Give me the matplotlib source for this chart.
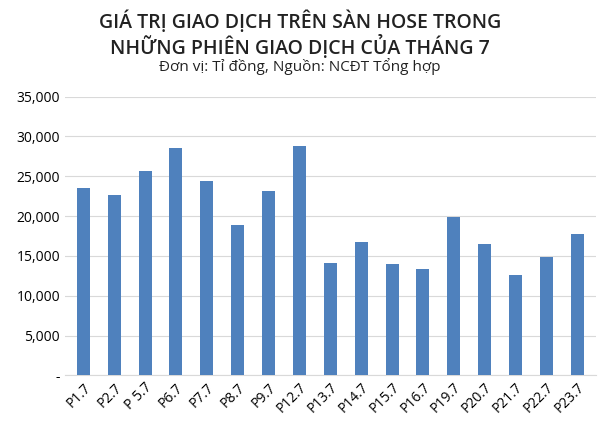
import matplotlib
matplotlib.use("Agg")
import matplotlib.pyplot as plt
from matplotlib.ticker import FuncFormatter

categories = ["P1.7","P2.7","P 5.7","P6.7","P7.7","P8.7","P9.7","P12.7","P13.7","P14.7",
              "P15.7","P16.7","P19.7","P20.7","P21.7","P22.7","P23.7"]
values = [23500,22600,25700,28500,24350,18850,23200,28750,14050,16800,
          13950,13300,19900,16550,12550,14800,17800]
yticks = [0,5000,10000,15000,20000,25000,30000,35000]

plt.rcParams["font.family"] = "Open Sans"
fig = plt.figure(figsize=(6,4.29), dpi=100)
ax = fig.add_axes([0.108, 0.125, 0.885, 0.65])
ax.bar(range(len(categories)), values, width=0.42, color="#4F81BD", zorder=3)
ax.set_ylim(0,35000)
ax.set_xlim(-0.6, len(categories)-0.4)
ax.set_yticks(yticks)
ax.yaxis.set_major_formatter(FuncFormatter(lambda v,p: "-" if v==0 else f"{int(v):,}"))
ax.grid(axis="y", color="#D9D9D9", lw=0.8, zorder=0)
ax.set_xticks(range(len(categories)))
ax.set_xticklabels(categories, rotation=45, ha="right", rotation_mode="anchor", fontsize=10, color="black")
ax.tick_params(axis="y", labelsize=10, length=0, labelcolor="black")
ax.tick_params(axis="x", length=0)
for s in ["top","right","left"]:
    ax.spines[s].set_visible(False)
ax.spines["bottom"].set_color("#D9D9D9")
fig.text(0.5, 0.975, "GIÁ TRỊ GIAO DỊCH TRÊN SÀN HOSE TRONG\nNHỮNG PHIÊN GIAO DỊCH CỦA THÁNG 7",
         ha="center", va="top", fontsize=14, fontweight="semibold", color="#222222", linespacing=1.1)
fig.text(0.5, 0.865, "Đơn vị: Tỉ đồng, Nguồn: NCĐT Tổng hợp", ha="center", va="top",
         fontsize=11, color="#222222")
fig.savefig("out.png", dpi=100)
